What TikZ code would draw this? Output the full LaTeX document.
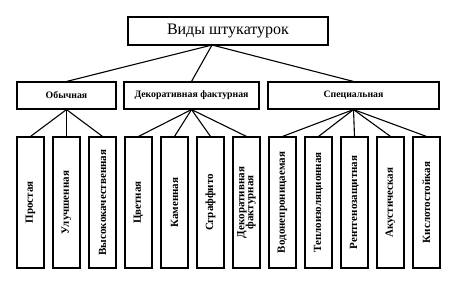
\documentclass[tikz,border=0pt]{standalone}
\usepackage{fontspec}
\setmainfont{Liberation Serif}
\usepackage{tikz}

\begin{document}
\begin{tikzpicture}[x=1pt, y=-1pt, line width=1.1pt,
  every node/.style={draw, inner sep=0pt},
  hbox/.style={font=\fontsize{9.8}{11}\selectfont\bfseries, minimum height=27pt},
  vbox/.style={rotate=90, font=\fontsize{11}{11}\selectfont\bfseries, align=center,
    minimum width=131pt, minimum height=27pt}]
\useasboundingbox (0,0) rectangle (460,282);
\node[minimum width=200pt, minimum height=28pt, font=\fontsize{16}{18}\selectfont] (vid) at (228,31) {Виды штукатурок};
\coordinate (v) at (212,45);
\node[hbox, minimum width=99pt] (obych) at (66.5,95.5) {Обычная};
\node[hbox, minimum width=135pt] (dekor) at (191.5,95.5) {Декоративная фактурная};
\node[hbox, minimum width=171pt] (spec) at (353.5,95.5) {Специальная};
\draw (v) -- (obych.north);
\draw (v) -- (dekor.north);
\draw (v) -- (spec.north);
\node[vbox] (prost) at (30.5,202.5) {Простая};
\node[vbox] (uluch) at (66.5,202.5) {Улучшенная};
\node[vbox] (vysok) at (102.5,202.5) {Высококачественная};
\node[vbox] (cvet) at (138.5,202.5) {Цветная};
\node[vbox] (kamen) at (174.5,202.5) {Каменная};
\node[vbox] (sgraf) at (210.5,202.5) {Сграффито};
\node[vbox] (dekf) at (246.5,202.5) {Декоративная\\[-2pt]фактурная};
\node[vbox] (vodo) at (282.5,202.5) {Водонепроницаемая};
\node[vbox] (teplo) at (318.5,202.5) {Теплоизоляционная};
\node[vbox] (rentg) at (354.5,202.5) {Рентгенозащитная};
\node[vbox] (akust) at (390.5,202.5) {Акустическая};
\node[vbox] (kisl) at (426.5,202.5) {Кислотостойкая};
\draw (obych.south) -- (prost.east);
\draw (obych.south) -- (uluch.east);
\draw (obych.south) -- (vysok.east);
\draw (dekor.south) -- (cvet.east);
\draw (dekor.south) -- (kamen.east);
\draw (dekor.south) -- (sgraf.east);
\draw (dekor.south) -- (dekf.east);
\draw (spec.south) -- (vodo.east);
\draw (spec.south) -- (teplo.east);
\draw (spec.south) -- (rentg.east);
\draw (spec.south) -- (akust.east);
\draw (spec.south) -- (kisl.east);
\end{tikzpicture}
\end{document}
